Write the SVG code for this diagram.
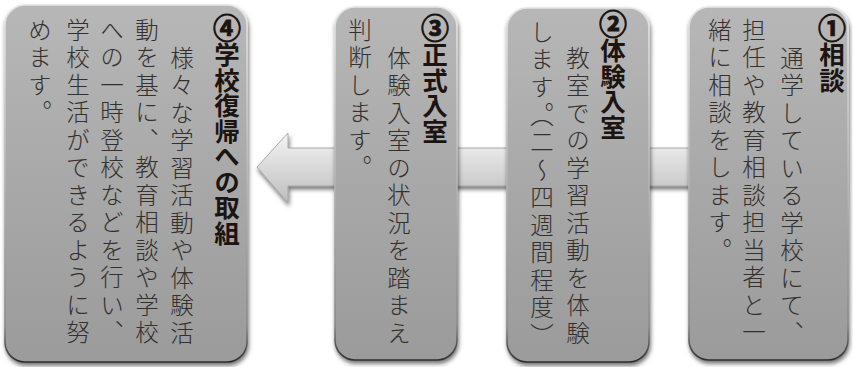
<svg xmlns="http://www.w3.org/2000/svg" width="853" height="367" viewBox="0 0 853 367">
<defs>
<linearGradient id="boxg" x1="0" y1="0" x2="0" y2="1">
<stop offset="0" stop-color="#b7b7b7"/>
<stop offset="0.5" stop-color="#a8a8a8"/>
<stop offset="1" stop-color="#9b9b9b"/>
</linearGradient>
<linearGradient id="boxs" x1="0" y1="0" x2="0" y2="1">
<stop offset="0" stop-color="#e4e4e4"/>
<stop offset="0.9" stop-color="#8a8a8a"/>
<stop offset="1" stop-color="#2e2e2e"/>
</linearGradient>
<linearGradient id="arrg" x1="0" y1="0" x2="0" y2="1">
<stop offset="0" stop-color="#f4f4f4"/>
<stop offset="0.55" stop-color="#d6d6d6"/>
<stop offset="1" stop-color="#bdbdbd"/>
</linearGradient>
<filter id="sh" x="-10%" y="-10%" width="120%" height="120%">
<feGaussianBlur in="SourceAlpha" stdDeviation="2"/>
<feOffset dx="1" dy="3" result="b"/>
<feFlood flood-color="#000" flood-opacity="0.55"/>
<feComposite in2="b" operator="in"/>
<feMerge><feMergeNode/><feMergeNode in="SourceGraphic"/></feMerge>
</filter>
</defs>
<style>
.box { fill: url(#boxg); stroke: url(#boxs); stroke-width: 1.6; filter: url(#sh); }
.hd { font-family: "Noto Sans CJK JP", "Noto Sans CJK SC", sans-serif; font-weight: 700; font-size: 25.5px; fill: #1c1411; writing-mode: vertical-rl; text-orientation: upright; }
.num { font-size: 28px; stroke: #1c1411; stroke-width: 0.9px; }
.bd { font-family: "Noto Sans CJK JP", "Noto Sans CJK SC", sans-serif; font-weight: 300; font-size: 23.5px; letter-spacing: 4px; fill: #34302e; writing-mode: vertical-rl; text-orientation: upright; }
.arr { fill: url(#arrg); stroke: #9a9a9a; stroke-width: 0.8; filter: url(#sh); }
</style>
<rect width="853" height="367" fill="#ffffff"/>
<g id="connectors">
<polygon class="arr" points="257,167 288,133 288,148 700,148 700,186 288,186 288,203"/>
</g>
<g id="node1">
<rect class="box" x="689" y="7" width="159" height="353" rx="20"/>
<text class="hd" x="832" y="14"><tspan class="num">①</tspan>相談</text>
<text class="bd" x="792" y="46">通学している学校にて、</text>
<text class="bd" x="754" y="18">担任や教育相談担当者と一</text>
<text class="bd" x="720" y="18">緒に相談をします。</text>
</g>
<g id="node2">
<rect class="box" x="507" y="8" width="142" height="354" rx="20"/>
<text class="hd" x="613" y="10"><tspan class="num">②</tspan>体験入室</text>
<text class="bd" x="578" y="46">教室での学習活動を体験</text>
<text class="bd" x="542" y="20">します。<tspan y="103">（二〜四週間程度）</tspan></text>
</g>
<g id="node3">
<rect class="box" x="335" y="7" width="122" height="353" rx="20"/>
<text class="hd" x="435" y="14"><tspan class="num">③</tspan>正式入室</text>
<text class="bd" x="399" y="46">体験入室の状況を踏まえ</text>
<text class="bd" x="360" y="18">判断します。</text>
</g>
<g id="node4">
<rect class="box" x="5" y="5" width="242" height="357" rx="20"/>
<text class="hd" x="227" y="14"><tspan class="num">④</tspan>学校復帰への取組</text>
<text class="bd" x="182" y="46">様々な学習活動や体験活</text>
<text class="bd" x="147" y="18">動を基に、教育相談や学校</text>
<text class="bd" x="112" y="18">への一時登校などを行い、</text>
<text class="bd" x="78" y="18">学校生活ができるように努</text>
<text class="bd" x="40" y="18">めます。</text>
</g>
</svg>
